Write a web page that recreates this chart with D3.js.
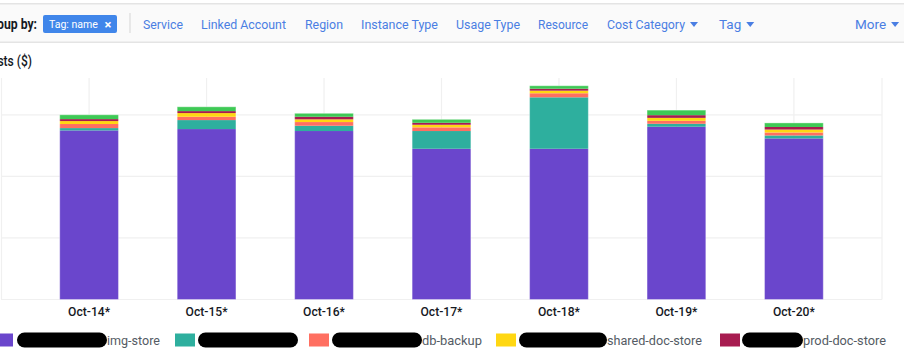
<!DOCTYPE html>
<html lang="en">
<head>
<meta charset="utf-8">
<script src="https://d3js.org/d3.v7.min.js"></script>
<style>
  body { margin: 0; background: #fff; overflow: hidden; }
  svg { display: block; font-family: Roboto, "Noto Sans", sans-serif; }
</style>
</head>
<body>
<div id="chart"></div>
<script>

var w = 904;
var h = 364;

// data
var dates = ["Oct-14*", "Oct-15*", "Oct-16*", "Oct-17*", "Oct-18*", "Oct-19*", "Oct-20*"];
var seriesKeys = ["img", "hidden", "dbbackup", "shared", "prod", "other"];
var imgStore    = [137.4, 138.5, 136.9, 122.5, 122.5, 140.4, 130.9];
var hiddenStore = [1.9, 7.3, 4.3, 14.4, 41.8, 2.4, 2.4];
var dbBackup    = [3.3, 2.7, 3.0, 3.0, 3.3, 2.4, 2.4];
var sharedDoc   = [2.4, 3.0, 2.2, 2.1, 2.1, 2.4, 2.4];
var prodDoc     = [1.6, 1.6, 2.1, 1.6, 1.6, 2.2, 2.1];
var otherTags   = [3.5, 3.5, 2.8, 2.8, 2.4, 4.1, 3.3];
var yTicks = [0, 50, 100, 150];

var colors = ["#6a46cc", "#2eaf9e", "#ff6f61", "#ffd712", "#a71c50", "#3ec955"];
var legendText = ["img-store", "", "db-backup", "shared-doc-store", "prod-doc-store"];

var navItems = ["Service", "Linked Account", "Region", "Instance Type", "Usage Type", "Resource", "Cost Category", "Tag", "More"];
var navX = [143, 201, 305, 361, 456, 538, 607, 719, 855];
var navW = [40, 85, 38, 77, 64, 50, 78, 0, 0];
var navCaret = [false, false, false, false, false, false, true, true, true];

var rows = dates.map(function(d, i) {
  return { date: d, img: imgStore[i], hidden: hiddenStore[i], dbbackup: dbBackup[i],
           shared: sharedDoc[i], prod: prodDoc[i], other: otherTags[i] };
});

// shrink or grow a text so it takes the width seen in the picture
function fit(node, target) {
  var fs = parseFloat(node.getAttribute("font-size"));
  var len = node.getComputedTextLength();
  if (len > 0) node.setAttribute("font-size", (fs * target / len).toFixed(2));
}

var svg = d3.select("#chart").append("svg")
  .attr("width", w)
  .attr("height", h);

// ---- toolbar ----
svg.append("rect").attr("x", 0).attr("y", 3).attr("width", w).attr("height", 40).attr("fill", "#fafafa");
svg.append("rect").attr("x", 0).attr("y", 3).attr("width", w).attr("height", 1.5).attr("fill", "#e4e4e4");
svg.append("rect").attr("x", 0).attr("y", 41.5).attr("width", w).attr("height", 1.5).attr("fill", "#e4e4e4");

// left part of this label is outside the shot, as in the source
svg.append("text")
  .attr("transform", "translate(37,29) scale(0.87,1)")
  .attr("text-anchor", "end")
  .attr("font-size", 14)
  .attr("font-weight", "bold")
  .attr("fill", "#16191f")
  .text("Group by:");

svg.append("rect")
  .attr("x", 43).attr("y", 15).attr("width", 74).attr("height", 18).attr("rx", 2)
  .attr("fill", "#4086ea");
svg.append("text")
  .attr("x", 49).attr("y", 28)
  .attr("font-size", 12)
  .attr("fill", "#fff")
  .text("Tag: name")
  .each(function() { fit(this, 49); });
svg.append("text")
  .attr("x", 108).attr("y", 28.5)
  .attr("text-anchor", "middle")
  .attr("font-size", 13)
  .attr("font-weight", "bold")
  .attr("fill", "#fff")
  .text("×");

svg.append("line")
  .attr("x1", 130).attr("x2", 130).attr("y1", 13).attr("y2", 33)
  .attr("stroke", "#d5d5d5");

var nav = svg.selectAll("g.nav")
  .data(navItems)
  .enter().append("g")
  .attr("class", "nav")
  .attr("transform", function(d, i) { return "translate(" + navX[i] + ",29)"; });

nav.append("text")
  .attr("font-size", 13.5)
  .attr("fill", "#4a7ee3")
  .text(function(d) { return d; })
  .each(function(d, i) { if (navW[i]) fit(this, navW[i]); });

nav.each(function(d, i) {
  if (!navCaret[i]) return;
  var tw = this.querySelector("text").getComputedTextLength();
  d3.select(this).append("path")
    .attr("d", "M" + (tw + 5) + ",-7 l8,0 l-4,5 z")
    .attr("fill", "#4a7ee3");
});

// ---- chart title ----
svg.append("text")
  .attr("transform", "translate(32,66) scale(0.86,1)")
  .attr("text-anchor", "end")
  .attr("font-size", 14)
  .attr("font-weight", 500)
  .attr("fill", "#16191f")
  .text("Costs ($)");

// ---- plot ----
var x = d3.scaleBand()
  .domain(dates)
  .range([1, 882])
  .paddingInner(0.5)
  .paddingOuter(0.5);

var y = d3.scaleLinear()
  .domain([0, 180])
  .range([299.5, 78]);

var grid = svg.append("g").attr("stroke", "#f0f0f0").attr("stroke-width", 1.2);

grid.selectAll("line.h")
  .data(yTicks)
  .enter().append("line")
  .attr("x1", 1).attr("x2", 882)
  .attr("y1", function(d) { return y(d); })
  .attr("y2", function(d) { return y(d); });

grid.selectAll("line.v")
  .data(dates)
  .enter().append("line")
  .attr("x1", function(d) { return x(d) + x.bandwidth() / 2; })
  .attr("x2", function(d) { return x(d) + x.bandwidth() / 2; })
  .attr("y1", y(180)).attr("y2", y(0));

grid.append("line").attr("x1", 1.5).attr("x2", 1.5).attr("y1", y(180)).attr("y2", y(0));
grid.append("line").attr("x1", 882).attr("x2", 882).attr("y1", y(180)).attr("y2", y(0));

var stack = d3.stack().keys(seriesKeys);
var layers = stack(rows);

var layer = svg.selectAll("g.layer")
  .data(layers)
  .enter().append("g")
  .attr("class", "layer")
  .attr("fill", function(d, i) { return colors[i]; });

layer.selectAll("rect")
  .data(function(d) { return d; })
  .enter().append("rect")
  .attr("x", function(d) { return x(d.data.date); })
  .attr("width", x.bandwidth())
  .attr("y", function(d) { return y(d[1]); })
  .attr("height", function(d) { return y(d[0]) - y(d[1]); });

// light outline around each bar
svg.selectAll("rect.outline")
  .data(rows)
  .enter().append("rect")
  .attr("class", "outline")
  .attr("x", function(d) { return x(d.date); })
  .attr("width", x.bandwidth())
  .attr("y", function(d) { return y(d3.sum(seriesKeys, function(k) { return d[k]; })); })
  .attr("height", function(d) { return y(0) - y(d3.sum(seriesKeys, function(k) { return d[k]; })); })
  .attr("fill", "none")
  .attr("stroke", "#fff")
  .attr("stroke-opacity", 0.35)
  .attr("stroke-width", 1);

svg.selectAll("text.xlab")
  .data(dates)
  .enter().append("text")
  .attr("class", "xlab")
  .attr("x", function(d) { return x(d) + x.bandwidth() / 2; })
  .attr("y", 316)
  .attr("text-anchor", "middle")
  .attr("font-size", 12)
  .attr("font-weight", 500)
  .attr("fill", "#16191f")
  .text(function(d) { return d; })
  .each(function() { fit(this, 42); });

// ---- legend (names partly blacked out in the source) ----
var legSwatchX = [-7, 175, 309, 496, 720];
var legBlob = [[17, 107], [198, 298], [332, 422], [519, 607], [742, 803]];
var legTextW = [53, 0, 60, 95, 83];

var legend = svg.selectAll("g.legend")
  .data(legendText)
  .enter().append("g")
  .attr("class", "legend");

legend.append("rect")
  .attr("x", function(d, i) { return legSwatchX[i]; })
  .attr("y", 333.5)
  .attr("width", 20).attr("height", 13)
  .attr("fill", function(d, i) { return colors[i]; });

legend.append("text")
  .attr("x", function(d, i) { return legBlob[i][1]; })
  .attr("y", 345)
  .attr("font-size", 13.5)
  .attr("fill", "#545b64")
  .text(function(d) { return d; })
  .each(function(d, i) { if (legTextW[i]) fit(this, legTextW[i]); });

legend.append("rect")
  .attr("x", function(d, i) { return legBlob[i][0]; })
  .attr("y", 332.5)
  .attr("width", function(d, i) { return legBlob[i][1] - legBlob[i][0]; })
  .attr("height", 15)
  .attr("rx", 7.5)
  .attr("fill", "#000");

</script>
</body>
</html>
